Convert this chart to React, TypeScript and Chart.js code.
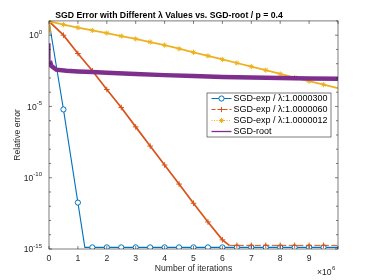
import React, { useEffect, useRef } from 'react';
import { Chart, registerables } from 'chart.js';

Chart.register(...registerables);

const FONT = '"Liberation Sans", Arial, Helvetica, sans-serif';
const TITLE = 'SGD Error with Different λ Values vs. SGD-root / p = 0.4';
const X_TITLE = 'Number of iterations';
const Y_TITLE = 'Relative error';
const X_MULTIPLIER_BASE = '×10';
const X_MULTIPLIER_EXP = '6';

// x in units of 1e6 iterations
const xTicks = [0, 1, 2, 3, 4, 5, 6, 7, 8, 9, 10];
const xTickLabels = ['0', '1', '2', '3', '4', '5', '6', '7', '8', '9', ''];
const yTickValues = [1, 1e-5, 1e-10, 1e-15];
const yTickExponents = ['0', '-5', '-10', '-15'];

const seriesLabels = [
  'SGD-exp / λ:1.0000300',
  'SGD-exp / λ:1.0000060',
  'SGD-exp / λ:1.0000012',
  'SGD-root',
];
const seriesColors = ['#0072BD', '#D95319', '#EDB120', '#7E2F8E'];

const blueX = [0, 0.5, 1, 1.24, 1.5, 2, 2.5, 3, 3.5, 4, 4.5, 5, 5.5, 6, 6.5, 7, 7.5, 8, 8.5, 9, 9.5, 10];
const blueY = [9.5, 6.2e-6, 1.8e-12, 1.3e-15, 1.3e-15, 1.3e-15, 1.3e-15, 1.3e-15, 1.3e-15, 1.3e-15, 1.3e-15,
  1.3e-15, 1.3e-15, 1.3e-15, 1.3e-15, 1.3e-15, 1.3e-15, 1.3e-15, 1.3e-15, 1.3e-15, 1.3e-15, 1.3e-15];

const orangeX = [0, 0.5, 1, 1.5, 2, 2.5, 3, 3.5, 4, 4.5, 5, 5.5, 6, 6.24, 6.5, 7, 7.5, 8, 8.5, 9, 9.5, 10];
const orangeY = [9.5, 1.0, 5.2e-2, 3.2e-3, 1.55e-4, 8.5e-6, 3.7e-7, 1.66e-8, 7.8e-10, 3.6e-11, 1.62e-12, 7.9e-14,
  4.4e-15, 1.8e-15, 1.8e-15, 1.8e-15, 1.8e-15, 1.8e-15, 1.8e-15, 1.8e-15, 1.8e-15, 1.8e-15];

const yellowX = [0, 0.02, 0.5, 1, 1.5, 2, 2.5, 3, 3.5, 4, 4.5, 5, 5.5, 6, 6.5, 7, 7.5, 8, 8.5, 9, 9.5, 10];
const yellowY = [1.9, 9.2, 5.5, 3.39, 2.14, 1.41, 0.87, 0.55, 0.33, 0.2, 0.112, 0.063, 0.0355, 0.02, 0.0112,
  6.3e-3, 3.55e-3, 1.9e-3, 1.07e-3, 6.0e-4, 3.4e-4, 1.9e-4];

const purpleX = [0, 0.03, 0.08, 0.25, 0.6, 1, 1.5, 2, 3, 4, 5, 6, 7, 8, 9, 10];
const purpleY = [0.275, 0.0158, 7.1e-3, 3.8e-3, 3.16e-3, 2.88e-3, 2.63e-3, 2.34e-3, 1.9e-3, 1.58e-3, 1.35e-3,
  1.17e-3, 1.07e-3, 1.0e-3, 9.3e-4, 8.7e-4];

const toPoints = (xs: number[], ys: number[]) => xs.map((x, i) => ({ x, y: ys[i] }));
const isMarker = (x: number) => x < 9.75 && Math.abs(x * 2 - Math.round(x * 2)) < 1e-9;

const TEXT = '#262626';

function drawMarker(ctx: CanvasRenderingContext2D, kind: string, cx: number, cy: number, r: number, color: string) {
  ctx.save();
  ctx.strokeStyle = color;
  ctx.lineWidth = 1;
  ctx.setLineDash([]);
  ctx.beginPath();
  if (kind === 'circle') {
    ctx.fillStyle = '#fff';
    ctx.arc(cx, cy, r, 0, Math.PI * 2);
    ctx.fill();
    ctx.stroke();
  } else if (kind === 'cross') {
    ctx.moveTo(cx - r, cy); ctx.lineTo(cx + r, cy);
    ctx.moveTo(cx, cy - r); ctx.lineTo(cx, cy + r);
    ctx.stroke();
  } else if (kind === 'star') {
    ctx.moveTo(cx - r, cy); ctx.lineTo(cx + r, cy);
    ctx.moveTo(cx, cy - r); ctx.lineTo(cx, cy + r);
    const d = r * 0.707;
    ctx.moveTo(cx - d, cy - d); ctx.lineTo(cx + d, cy + d);
    ctx.moveTo(cx - d, cy + d); ctx.lineTo(cx + d, cy - d);
    ctx.stroke();
  }
  ctx.restore();
}

const decorPlugin = {
  id: 'decor',
  afterDraw(chart: any) {
    const { ctx, chartArea: a, scales } = chart;
    const xs = scales.x;
    const ys = scales.y;
    ctx.save();
    // axes box
    ctx.strokeStyle = TEXT;
    ctx.lineWidth = 0.6;
    ctx.strokeRect(a.left, a.top, a.right - a.left, a.bottom - a.top);
    // x ticks (inward, bottom and top)
    ctx.beginPath();
    for (const v of xTicks) {
      const px = xs.getPixelForValue(v);
      ctx.moveTo(px, a.bottom); ctx.lineTo(px, a.bottom - 3);
      ctx.moveTo(px, a.top); ctx.lineTo(px, a.top + 3);
    }
    // y ticks every decade
    for (let e = -15; e <= 1; e++) {
      const py = ys.getPixelForValue(Math.pow(10, e));
      const len = e % 5 === 0 ? 3 : 2;
      ctx.moveTo(a.left, py); ctx.lineTo(a.left + len, py);
      ctx.moveTo(a.right, py); ctx.lineTo(a.right - len, py);
    }
    ctx.stroke();

    // y tick labels with superscripts
    ctx.fillStyle = TEXT;
    ctx.textBaseline = 'alphabetic';
    ctx.textAlign = 'left';
    yTickValues.forEach((v, i) => {
      const py = ys.getPixelForValue(v);
      ctx.font = `6px ${FONT}`;
      const ew = ctx.measureText(yTickExponents[i]).width;
      ctx.font = `8.6px ${FONT}`;
      const bw = ctx.measureText('10').width;
      const xEnd = a.left - 7;
      ctx.fillText('10', xEnd - ew - bw, py + 3.2);
      ctx.font = `6px ${FONT}`;
      ctx.fillText(yTickExponents[i], xEnd - ew, py - 1.5);
    });

    // x multiplier
    ctx.font = `8.6px ${FONT}`;
    const mw = ctx.measureText(X_MULTIPLIER_BASE).width;
    ctx.fillText(X_MULTIPLIER_BASE, 317, 275);
    ctx.font = `6px ${FONT}`;
    ctx.fillText(X_MULTIPLIER_EXP, 317 + mw + 0.5, 269.5);

    // legend
    const lx = 207, ly = 93, lw = 124, lh = 44;
    ctx.fillStyle = '#fff';
    ctx.fillRect(lx, ly, lw, lh);
    ctx.strokeStyle = TEXT;
    ctx.lineWidth = 0.6;
    ctx.strokeRect(lx, ly, lw, lh);
    const kinds = ['circle', 'cross', 'star', 'none'];
    const dashes = [[], [4, 2], [1, 1.5], []];
    ctx.font = `9px ${FONT}`;
    ctx.textBaseline = 'middle';
    seriesLabels.forEach((label, i) => {
      const cy = ly + 5.5 + i * 11;
      ctx.save();
      ctx.strokeStyle = seriesColors[i];
      ctx.lineWidth = i === 3 ? 1.3 : 1;
      ctx.setLineDash(dashes[i]);
      ctx.beginPath();
      ctx.moveTo(lx + 4.5, cy);
      ctx.lineTo(lx + 24.5, cy);
      ctx.stroke();
      ctx.restore();
      if (kinds[i] !== 'none') drawMarker(ctx, kinds[i], lx + 14.5, cy, 2.6, seriesColors[i]);
      ctx.fillStyle = '#000';
      ctx.fillText(label, lx + 26.5, cy + 0.5);
    });
    ctx.restore();
  },
};

export default function App() {
  const canvasRef = useRef<HTMLCanvasElement | null>(null);

  useEffect(() => {
    const canvas = canvasRef.current;
    if (!canvas) return;
    const tickFont = { family: FONT, size: 8.6 };
    const chart = new Chart(canvas, {
      type: 'line',
      data: {
        datasets: [
          {
            label: seriesLabels[0],
            data: toPoints(blueX, blueY),
            borderColor: seriesColors[0],
            backgroundColor: '#fff',
            borderWidth: 1.1,
            pointStyle: 'circle',
            pointRadius: (c: any) => (c.raw && c.raw.x > 0 && isMarker(c.raw.x) ? 2.6 : 0),
            pointBorderColor: seriesColors[0],
            pointBackgroundColor: '#fff',
            pointBorderWidth: 1,
            tension: 0,
            order: 3,
          },
          {
            label: seriesLabels[1],
            data: toPoints(orangeX, orangeY),
            borderColor: seriesColors[1],
            borderWidth: 1.7,
            pointStyle: 'cross',
            pointRadius: (c: any) => (c.raw && c.raw.x > 0 && isMarker(c.raw.x) ? 2.8 : 0),
            pointBorderColor: seriesColors[1],
            pointBorderWidth: 1,
            segment: {
              borderDash: (c: any) => (c.p0.parsed.x >= 6.2 ? [6, 2.5] : undefined),
              borderWidth: (c: any) => (c.p0.parsed.x >= 6.2 ? 1 : undefined),
            },
            tension: 0,
            order: 2,
          },
          {
            label: seriesLabels[2],
            data: toPoints(yellowX, yellowY),
            borderColor: seriesColors[2],
            borderWidth: 1.8,
            pointStyle: 'star',
            pointRadius: (c: any) => (c.raw && isMarker(c.raw.x) ? 2.6 : 0),
            pointBorderColor: seriesColors[2],
            pointBackgroundColor: seriesColors[2],
            pointBorderWidth: 1,
            tension: 0,
            order: 1,
          },
          {
            label: seriesLabels[3],
            data: toPoints(purpleX, purpleY),
            borderColor: seriesColors[3],
            borderWidth: 4.5,
            pointRadius: 0,
            segment: {
              borderWidth: (c: any) => (c.p0DataIndex === 0 ? 1.5 : undefined),
            },
            tension: 0,
            order: 0,
          },
        ],
      },
      options: {
        animation: false,
        responsive: false,
        layout: { padding: { left: 0, right: 36, top: 0, bottom: 0 } },
        plugins: {
          legend: { display: false },
          tooltip: { enabled: false },
          title: {
            display: true,
            text: TITLE,
            color: '#000',
            font: { family: FONT, size: 8.7, weight: 'bold' },
            padding: { top: 10.5, bottom: 0 },
          },
        },
        scales: {
          x: {
            type: 'linear',
            min: 0,
            max: 10,
            afterFit: (s: any) => { s.height = 31; },
            grid: { display: false, drawTicks: false },
            border: { display: false },
            afterBuildTicks: (s: any) => { s.ticks = xTicks.map((v) => ({ value: v })); },
            ticks: {
              autoSkip: false,
              maxRotation: 0,
              color: TEXT,
              font: tickFont,
              padding: 4,
              callback: (v: any) => {
                const i = xTicks.indexOf(Number(v));
                return i >= 0 ? xTickLabels[i] : '';
              },
            },
            title: {
              display: true,
              text: X_TITLE,
              color: TEXT,
              font: tickFont,
              padding: { top: 0, bottom: 6.5 },
            },
          },
          y: {
            type: 'logarithmic',
            min: 1e-15,
            max: 10,
            afterFit: (s: any) => { s.width = 49; },
            grid: { display: false, drawTicks: false },
            border: { display: false },
            ticks: { display: false },
            title: {
              display: true,
              text: Y_TITLE,
              color: TEXT,
              font: tickFont,
              padding: { top: 12.8, bottom: 0 },
            },
          },
        },
      },
      plugins: [decorPlugin],
    } as any);
    return () => chart.destroy();
  }, []);

  return (
    <div style={{ position: 'fixed', left: 0, top: 0, width: 374, height: 280, background: '#fff' }}>
      <canvas ref={canvasRef} width={374} height={280} style={{ display: 'block', width: 374, height: 280 }} />
    </div>
  );
}
